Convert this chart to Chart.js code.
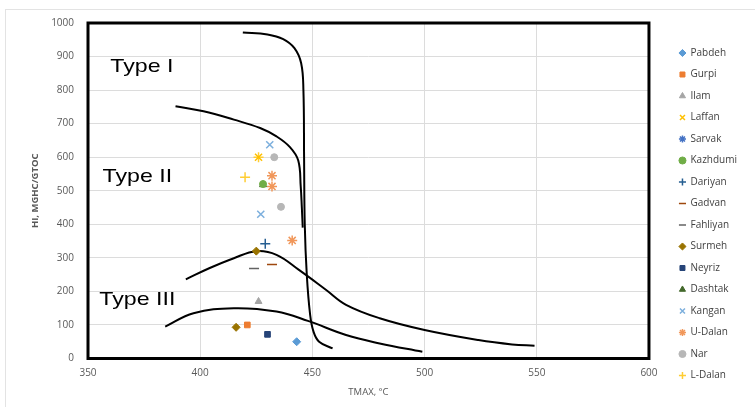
<!DOCTYPE html>
<html>
<head>
<meta charset="utf-8">
<script src="https://cdn.jsdelivr.net/npm/chart.js@4"></script>
<style>
  html, body { margin: 0; padding: 0; background: #fff; }
  #wrap { position: absolute; left: 5px; top: 9px; width: 760px; height: 398px; border: 1px solid #e3e3e3; }
  canvas { position: absolute; left: 0; top: 0; }
</style>
</head>
<body>
<div id="wrap"></div>
<canvas id="chart" width="755" height="407"></canvas>
<script>
// formations, [Tmax, HI]
const formations = ['Pabdeh', 'Gurpi', 'Ilam', 'Laffan', 'Sarvak', 'Kazhdumi', 'Dariyan', 'Gadvan',
  'Fahliyan', 'Surmeh', 'Neyriz', 'Dashtak', 'Kangan', 'U-Dalan', 'Nar', 'L-Dalan'];
const pabdeh = [[443, 50]];
const gurpi = [[421, 100]];
const ilam = [[426, 170]];
const laffan = [[426, 600]];
const sarvak = [];
const kazhdumi = [[428, 520]];
const dariyan = [[429, 342]];
const gadvan = [[432, 280]];
const fahliyan = [[424, 268]];
const surmeh = [[416, 93], [425, 320]];
const neyriz = [[430, 72]];
const dashtak = [[428, 518]];
const kangan = [[431, 637], [427, 430]];
const uDalan = [[432, 545], [432, 513], [441, 352]];
const nar = [[433, 600], [436, 452]];
const lDalan = [[420, 540], [426, 600]];

// kerogen type boundary curves
const typeICurve = [[419, 972], [430, 966], [437, 952], [442, 925], [445, 880], [446, 800], [446.3, 600],
  [446.6, 400], [447.5, 250], [449, 130], [450.5, 80], [453, 50], [459, 30]];
const typeIICurve = [[389, 752], [401.5, 737], [415, 712], [426.7, 687], [434, 662], [440, 630],
  [443.7, 590], [444.8, 513], [445.3, 450], [445.7, 390]];
const typeIIbCurve = [[393.6, 236], [404, 269], [415, 299], [425, 320], [434, 309], [444, 264],
  [456, 205], [465, 160], [480, 120], [500, 85], [524, 55], [539, 42], [549, 38]];
const typeIIICurve = [[384.4, 95], [397, 135], [415, 150], [434, 140], [448, 112], [465, 70],
  [480, 45], [499, 20]];

const typeLabels = ['Type I', 'Type II', 'Type III'];
const typeLabelAt = [[374, 870], [372, 542], [372, 175]];

const series = [pabdeh, gurpi, ilam, laffan, sarvak, kazhdumi, dariyan, gadvan,
  fahliyan, surmeh, neyriz, dashtak, kangan, uDalan, nar, lDalan];
const colors = ['#5B9BD5', '#ED7D31', '#A5A5A5', '#FFC000', '#4472C4', '#70AD47', '#255E91', '#9E480E',
  '#636363', '#997300', '#264478', '#43682B', '#7CAFDD', '#F1975A', '#B7B7B7', '#FFCD33'];
const shapes = ['rectRot', 'rect', 'triangle', 'crossRot', 'star', 'circle', 'cross', 'line',
  'line', 'rectRot', 'rect', 'triangle', 'crossRot', 'star', 'circle', 'cross'];

const toPts = arr => arr.map(p => ({ x: p[0], y: p[1] }));

const datasets = formations.map((name, i) => {
  const open = ['crossRot', 'cross', 'star', 'line'].includes(shapes[i]);
  return {
    label: name,
    data: toPts(series[i]),
    pointStyle: shapes[i],
    pointRadius: open ? 5 : (shapes[i] === 'circle' ? 3.5 : 4),
    backgroundColor: colors[i],
    borderColor: colors[i],
    pointBorderWidth: open ? 1.5 : 1,
    showLine: false
  };
});

[typeICurve, typeIICurve, typeIIbCurve, typeIIICurve].forEach(c => {
  datasets.push({
    label: '',
    data: toPts(c),
    showLine: true,
    borderColor: '#000',
    borderWidth: 2,
    pointRadius: 0,
    tension: 0.4
  });
});

const frame = {
  id: 'frame',
  afterDatasetsDraw(chart) {
    const { ctx, chartArea: a, scales } = chart;
    ctx.save();
    ctx.strokeStyle = '#000';
    ctx.lineWidth = 3;
    ctx.strokeRect(a.left, a.top, a.right - a.left, a.bottom - a.top);
    ctx.fillStyle = '#000';
    ctx.font = '19px "Liberation Sans", Arial, sans-serif';
    ctx.textBaseline = 'middle';
    ctx.textAlign = 'center';
    typeLabels.forEach((t, i) => {
      const px = scales.x.getPixelForValue(typeLabelAt[i][0]);
      const py = scales.y.getPixelForValue(typeLabelAt[i][1]);
      ctx.save();
      ctx.translate(px, py);
      ctx.scale(1.22, 1);
      ctx.fillText(t, 0, 0);
      ctx.restore();
    });
    ctx.fillStyle = '#595959';
    ctx.font = '9.5px "Open Sans", sans-serif';
    ctx.fillText('TMAX, °C', (a.left + a.right) / 2, 392);
    ctx.restore();
  }
};

new Chart(document.getElementById('chart'), {
  type: 'scatter',
  data: { datasets },
  plugins: [frame],
  options: {
    responsive: false,
    animation: false,
    layout: { padding: { top: 23, bottom: 8, left: 30, right: 8 } },
    scales: {
      x: {
        min: 350, max: 600,
        ticks: { stepSize: 50, padding: 9, color: '#595959', font: { size: 10, family: '"Open Sans", sans-serif' } },
        grid: { color: '#dcdcdc', drawTicks: false },
        border: { display: false },
        afterFit: s => { s.height = 40.5; }
      },
      y: {
        min: 0, max: 1000,
        ticks: { stepSize: 100, padding: 14, color: '#595959', callback: v => String(v),
          font: { size: 10, family: '"Open Sans", sans-serif' } },
        grid: { color: '#dcdcdc', drawTicks: false },
        border: { display: false },
        title: { display: true, text: 'HI, MGHC/GTOC', color: '#595959', padding: { top: 0, bottom: 0 },
          font: { size: 9.5, weight: 'bold', family: '"Open Sans", sans-serif' } },
        afterFit: s => { s.width = 58; }
      },
      yR: {
        position: 'right',
        display: true,
        ticks: { display: false },
        grid: { display: false },
        border: { display: false },
        afterFit: s => { s.width = 19; }
      }
    },
    plugins: {
      tooltip: { enabled: false },
      legend: {
        position: 'right',
        align: 'start',
        title: { display: true, text: ' ', padding: { top: 0, bottom: 1.5 }, font: { size: 10 } },
        labels: {
          usePointStyle: true,
          boxWidth: 6,
          boxHeight: 5,
          padding: 11.5,
          color: '#404040',
          font: { size: 10, family: '"Open Sans", sans-serif' },
          filter: item => item.text !== ''
        }
      }
    }
  }
});
</script>
</body>
</html>
